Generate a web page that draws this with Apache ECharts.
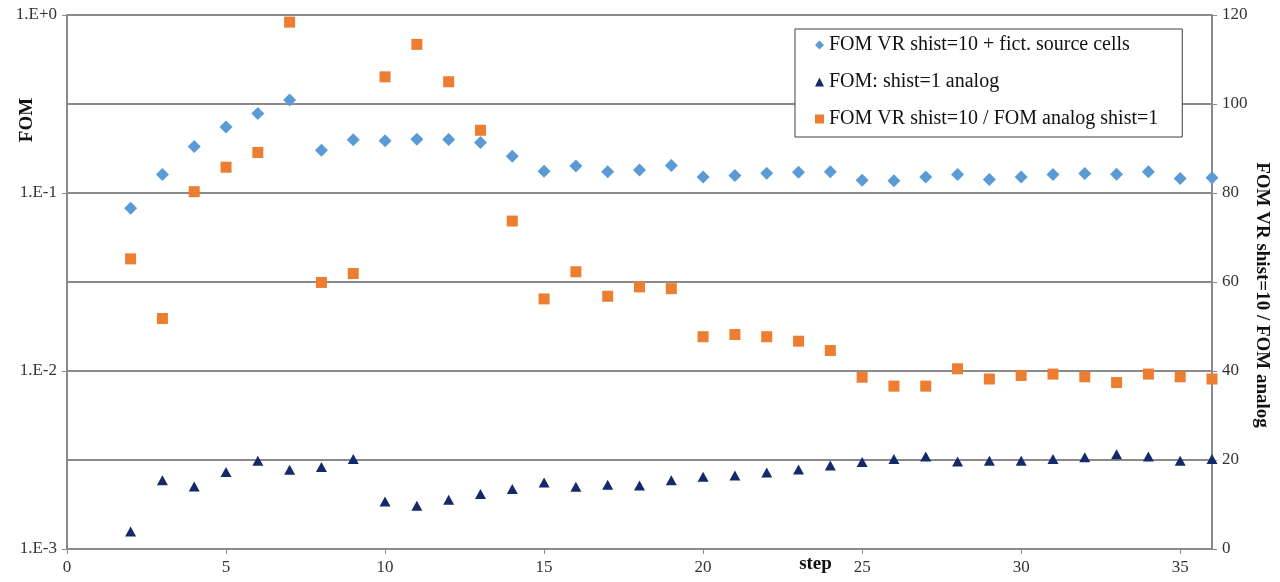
<!DOCTYPE html>
<html>
<head>
<meta charset="utf-8">
<script src="https://cdn.jsdelivr.net/npm/echarts@6/dist/echarts.min.js"></script>
<style>
html,body{margin:0;padding:0;background:#fff;}
#main{width:1280px;height:582px;}
</style>
</head>
<body>
<div id="main"></div>
<script>
const steps = [2,3,4,5,6,7,8,9,10,11,12,13,14,15,16,17,18,19,20,21,22,23,24,25,26,27,28,29,30,31,32,33,34,35,36];
const fomVR = [0.0822,0.127,0.1826,0.2352,0.2797,0.3334,0.174,0.1989,0.1963,0.2007,0.2,0.1923,0.161,0.1327,0.1416,0.1315,0.1345,0.1428,0.1228,0.1256,0.1293,0.131,0.1315,0.1181,0.117,0.1228,0.127,0.1192,0.1228,0.127,0.1288,0.1275,0.1315,0.1208,0.122];
const fomAnalog = [0.001254,0.00243,0.002245,0.002705,0.00313,0.002786,0.002886,0.0032,0.00185,0.00175,0.00189,0.00204,0.00217,0.002365,0.002237,0.002296,0.002275,0.00243,0.002545,0.002588,0.00269,0.002797,0.002945,0.003077,0.0032,0.00331,0.0031,0.00313,0.00313,0.0032,0.00328,0.00341,0.00331,0.00313,0.0032];
const ratio = [65.2,51.8,80.3,85.8,89.1,118.4,59.9,61.9,106.1,113.4,105.0,94.1,73.7,56.2,62.3,56.8,58.9,58.5,47.7,48.2,47.7,46.7,44.6,38.6,36.6,36.6,40.5,38.2,39.0,39.3,38.7,37.4,39.3,38.7,38.2];
const seriesNames = ['FOM VR shist=10 + fict. source cells','FOM: shist=1 analog','FOM VR shist=10 / FOM analog shist=1'];
const xTitle = 'step';
const yLeftTitle = 'FOM';
const yRightTitle = 'FOM VR shist=10 / FOM analog';

const pair = (ys) => steps.map((s, i) => [s, ys[i]]);
const serif = 'Liberation Serif, Times New Roman, serif';
const gridColor = '#8a8a8a';

const chart = echarts.init(document.getElementById('main'));
chart.setOption({
  animation: false,
  backgroundColor: '#ffffff',
  textStyle: { fontFamily: serif },
  grid: { left: 67, right: 68, top: 15, bottom: 33, containLabel: false, outerBoundsMode: 'none' },
  legend: {
    orient: 'vertical',
    left: 795,
    top: 29,
    padding: [6, 24, 8, 20],
    itemGap: 17,
    itemWidth: 9,
    itemHeight: 9,
    backgroundColor: '#ffffff',
    borderColor: '#404040',
    borderWidth: 1,
    borderRadius: 0,
    textStyle: { fontFamily: serif, fontSize: 20, color: '#111', lineHeight: 20 },
    data: [
      { name: seriesNames[0], icon: 'diamond' },
      { name: seriesNames[1], icon: 'triangle' },
      { name: seriesNames[2], icon: 'rect' }
    ]
  },
  xAxis: {
    type: 'value',
    min: 0, max: 36, interval: 5,
    name: xTitle,
    nameLocation: 'middle',
    nameGap: 6,
    nameMoveOverlap: false,
    nameTextStyle: { fontFamily: serif, fontSize: 19, fontWeight: 'bold', color: '#111', padding: [0, 0, 0, 352] },
    axisLine: { show: true, lineStyle: { color: gridColor, width: 2 } },
    axisTick: { show: true, inside: false, length: 5, lineStyle: { color: gridColor } },
    axisLabel: { fontFamily: serif, fontSize: 17, color: '#333', margin: 10, showMaxLabel: false },
    splitLine: { show: false }
  },
  yAxis: [
    {
      type: 'log', logBase: 10, min: 0.001, max: 1,
      position: 'left',
      name: yLeftTitle,
      nameLocation: 'middle',
      nameRotate: 90,
      nameGap: 30,
      nameMoveOverlap: false,
      nameTextStyle: { fontFamily: serif, fontSize: 19, fontWeight: 'bold', color: '#111', padding: [0, 0, 0, 324] },
      axisLine: { show: true, lineStyle: { color: gridColor, width: 2 } },
      axisTick: { show: true, inside: false, length: 5, lineStyle: { color: gridColor } },
      axisLabel: {
        fontFamily: serif, fontSize: 17, color: '#333', margin: 10,
        formatter: function (v) { const e = Math.round(Math.log10(v)); return '1.E' + (e >= 0 ? '+' : '') + e; }
      },
      splitLine: { show: false }
    },
    {
      type: 'value', min: 0, max: 120, interval: 20,
      position: 'right',
      name: yRightTitle,
      nameLocation: 'middle',
      nameRotate: -90,
      nameGap: 40,
      nameMoveOverlap: false,
      nameTextStyle: { fontFamily: serif, fontSize: 19, fontWeight: 'bold', color: '#111', padding: [0, 0, 0, 26] },
      axisLine: { show: true, lineStyle: { color: gridColor, width: 2 } },
      axisTick: { show: true, inside: false, length: 5, lineStyle: { color: gridColor } },
      axisLabel: { fontFamily: serif, fontSize: 17, color: '#333', margin: 10 },
      splitLine: { show: true, lineStyle: { color: gridColor, width: 2 } }
    }
  ],
  series: [
    {
      name: seriesNames[0], type: 'scatter', yAxisIndex: 0,
      symbol: 'diamond', symbolSize: 13,
      itemStyle: { color: '#5B9BD5', opacity: 1 },
      data: pair(fomVR), z: 3
    },
    {
      name: seriesNames[1], type: 'scatter', yAxisIndex: 0,
      symbol: 'triangle', symbolSize: [11, 10],
      itemStyle: { color: '#14296A', opacity: 1 },
      data: pair(fomAnalog), z: 3
    },
    {
      name: seriesNames[2], type: 'scatter', yAxisIndex: 1,
      symbol: 'rect', symbolSize: 11,
      itemStyle: { color: '#ED7D31', opacity: 1 },
      data: pair(ratio), z: 3
    }
  ]
});
</script>
</body>
</html>
